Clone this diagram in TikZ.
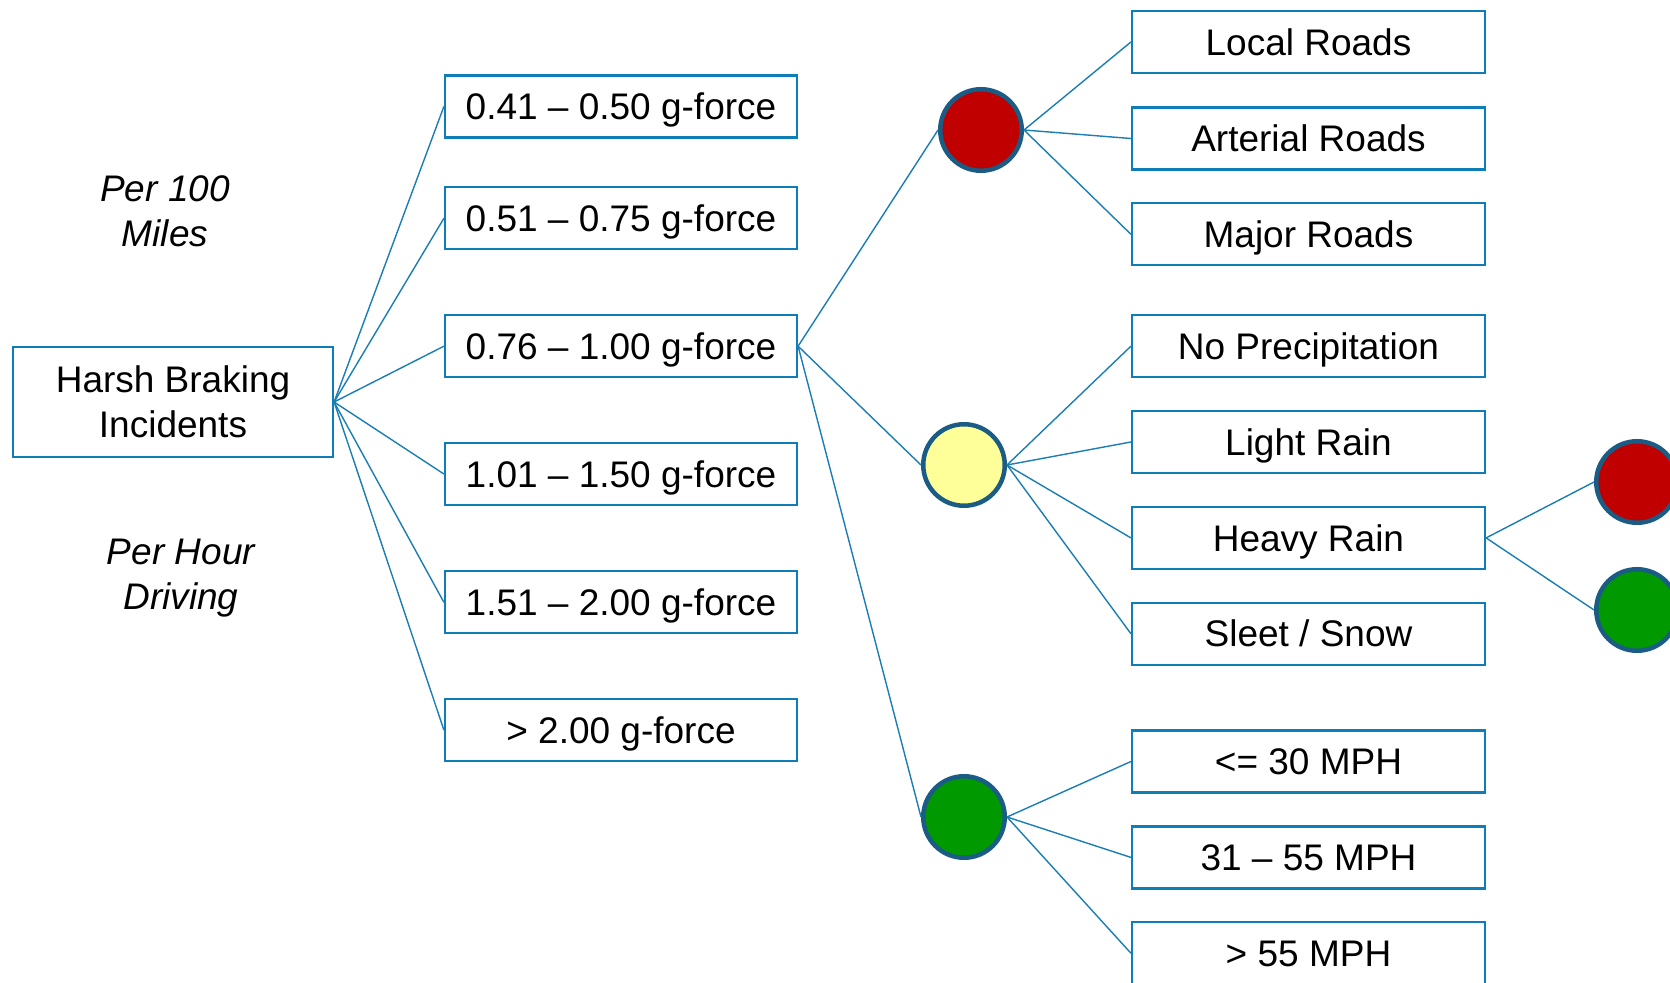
\documentclass[tikz,border=0pt]{standalone}
\usepackage{fontspec}
\setmainfont{Liberation Sans}
\definecolor{boxblue}{HTML}{0F7DB8}
\definecolor{lineblue}{HTML}{1A7DB5}
\definecolor{ringblue}{HTML}{1B5C85}
\definecolor{dotred}{HTML}{C00000}
\definecolor{dotyellow}{HTML}{FFFF99}
\definecolor{dotgreen}{HTML}{009900}
\begin{document}
\begin{tikzpicture}[x=0.5pt,y=-0.5pt,
  txt/.style={font=\fontsize{18.5}{22.5}\selectfont},
  basebox/.style={txt,draw=boxblue,line width=1.1pt,fill=white,inner sep=0pt,align=center},
  gbox/.style={basebox,minimum width=176pt,minimum height=31pt,text height=13.25pt,text depth=0pt},
  rbox/.style={gbox,minimum width=176.5pt},
  dot/.style={circle,draw=ringblue,line width=2.25pt,inner sep=0pt,minimum size=40.75pt},
  conn/.style={draw=lineblue,line width=0.7pt},
  note/.style={txt,font=\fontsize{18.5}{22.5}\selectfont\itshape,align=center}]
\useasboundingbox (0,0) rectangle (1670,983);
\clip (0,0) rectangle (1670,983);
% root
\node[basebox,minimum width=160pt,minimum height=55pt] (root) at (173,402) {Harsh Braking\\Incidents};
\node[note] (n1) at (165,211) {Per 100\\Miles};
\node[note] (n2) at (181,578) {Per Hour\\Driving};
% g-force boxes
\node[gbox] (g1) at (621,106.5) {0.41 – 0.50 g-force};
\node[gbox] (g2) at (621,218.3) {0.51 – 0.75 g-force};
\node[gbox] (g3) at (621,346.2) {0.76 – 1.00 g-force};
\node[gbox] (g4) at (621,474) {1.01 – 1.50 g-force};
\node[gbox] (g5) at (621,602.3) {1.51 – 2.00 g-force};
\node[gbox] (g6) at (621,730.1) {> 2.00 g-force};
% circles
\node[dot,fill=dotred] (c1) at (981,130) {};
\node[dot,fill=dotyellow] (c2) at (964,465) {};
\node[dot,fill=dotgreen] (c3) at (964,817) {};
% right boxes
\node[rbox] (r1) at (1308.5,42) {Local Roads};
\node[rbox] (r2) at (1308.5,138.5) {Arterial Roads};
\node[rbox] (r3) at (1308.5,234.3) {Major Roads};
\node[rbox] (r4) at (1308.5,346.2) {No Precipitation};
\node[rbox] (r5) at (1308.5,442) {Light Rain};
\node[rbox] (r6) at (1308.5,537.9) {Heavy Rain};
\node[rbox] (r7) at (1308.5,633.7) {Sleet / Snow};
\node[rbox] (r8) at (1308.5,761.5) {<= 30 MPH};
\node[rbox] (r9) at (1308.5,857.4) {31 – 55 MPH};
\node[rbox] (r10) at (1308.5,953.2) {> 55 MPH};
% far right circles
\node[dot,fill=dotred] (d1) at (1637,482) {};
\node[dot,fill=dotgreen] (d2) at (1637,610) {};
% connectors
\foreach \g in {g1,g2,g3,g4,g5,g6} \path[conn] (root.east) -- (\g.west);
\foreach \c in {c1,c2,c3} \path[conn] (g3.east) -- (\c.west);
\foreach \r in {r1,r2,r3} \path[conn] (c1.east) -- (\r.west);
\foreach \r in {r4,r5,r6,r7} \path[conn] (c2.east) -- (\r.west);
\foreach \r in {r8,r9,r10} \path[conn] (c3.east) -- (\r.west);
\foreach \d in {d1,d2} \path[conn] (r6.east) -- (\d.west);
\end{tikzpicture}
\end{document}
